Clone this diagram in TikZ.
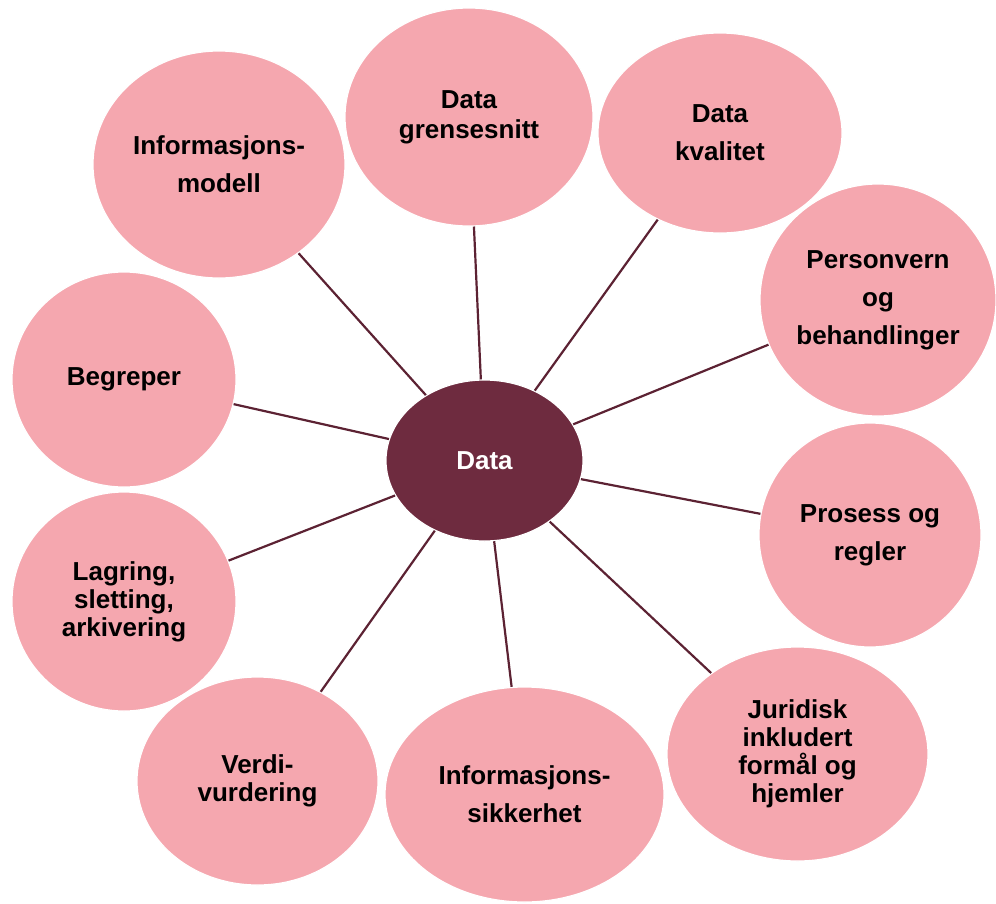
\documentclass[tikz,border=0pt]{standalone}
\usepackage{fontspec}
\setmainfont{Liberation Sans}
\usetikzlibrary{shapes.geometric}
\definecolor{petal}{HTML}{F5A7AF}
\definecolor{hub}{HTML}{6E2B3F}
\definecolor{spoke}{HTML}{5C2233}
\tikzset{
  petalnode/.style={ellipse, fill=petal, draw=white, line width=1.2pt, inner sep=0pt,
    align=center, text=black, font=\fontsize{26pt}{38pt}\selectfont\bfseries},
  tightlines/.style={font=\fontsize{26pt}{28pt}\selectfont\bfseries},
  midlines/.style={font=\fontsize{26pt}{30pt}\selectfont\bfseries},
  hubnode/.style={ellipse, fill=hub, draw=white, line width=1.2pt, inner sep=0pt,
    align=center, text=white, font=\fontsize{26pt}{38pt}\selectfont\bfseries},
  conn/.style={draw=spoke, line width=2.2pt}
}
\begin{document}
\begin{tikzpicture}[x=1pt,y=-1pt]
\useasboundingbox (0,0) rectangle (996,903);
\node[hubnode, minimum width=197pt, minimum height=161pt] (c) at (484.5,460.5) {Data};
\node[petalnode, minimum width=252pt, minimum height=227pt] (m) at (219,164.5) {Informasjons-\\modell};
\node[petalnode, midlines, minimum width=248pt, minimum height=218pt] (g) at (469,117) {Data\\grensesnitt};
\node[petalnode, minimum width=244pt, minimum height=200pt] (k) at (720,133) {Data\\kvalitet};
\node[petalnode, minimum width=236pt, minimum height=232pt] (p) at (878,300) {Personvern\\og\\behandlinger};
\node[petalnode, minimum width=224pt, minimum height=215pt] (b) at (124,379.5) {Begreper};
\node[petalnode, minimum width=222pt, minimum height=224pt] (r) at (870,535) {Prosess og\\regler};
\node[petalnode, tightlines, minimum width=224pt, minimum height=219pt] (l) at (124,601.5) {Lagring,\\sletting,\\arkivering};
\node[petalnode, tightlines, minimum width=261pt, minimum height=214pt] (j) at (797.5,754) {Juridisk\\inkludert\\formål og\\hjemler};
\node[petalnode, tightlines, minimum width=241pt, minimum height=208pt] (v) at (257.5,781) {Verdi-\\vurdering};
\node[petalnode, minimum width=279pt, minimum height=215pt] (s) at (524.5,794.5) {Informasjons-\\sikkerhet};
\foreach \o in {m,g,k,p,b,r,l,j,v,s}{
  \draw[conn] (c) -- (\o);
}
\end{tikzpicture}
\end{document}
